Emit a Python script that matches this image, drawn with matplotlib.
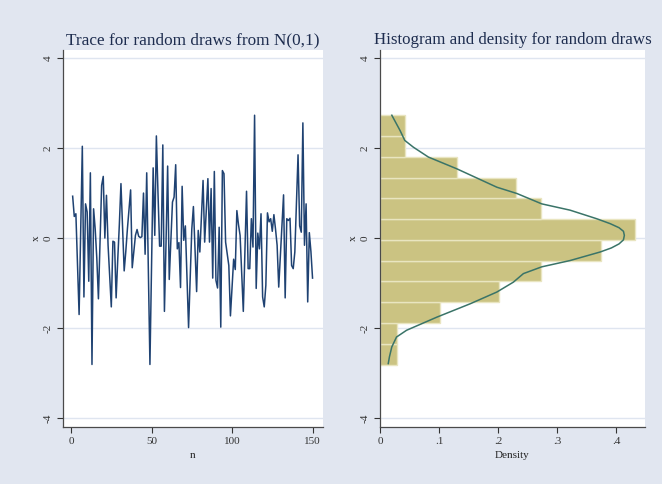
import numpy as np
import matplotlib
matplotlib.use("Agg")
import matplotlib.pyplot as plt

# ---- data ----
draws = [
    0.93, 0.48, 0.54, -0.60, -1.70, 0.17, 2.04, -1.31, 0.76, 0.58,
    -0.96, 1.45, -2.81, 0.65, 0.20, -0.45, -1.35, -0.10, 1.17, 1.37,
    0.00, 0.95, -0.16, -0.85, -1.53, -0.07, -0.09, -1.33, -0.48, 0.30,
    1.21, 0.25, -0.73, -0.30, 0.20, 0.65, 1.07, -0.66, -0.30, 0.06,
    0.19, 0.04, 0.01, 0.03, 1.00, -0.36, 1.45, -0.70, -2.81, -0.60,
    1.56, 0.06, 2.27, 1.00, -0.18, -0.18, 2.07, -1.63, -0.10, 1.60,
    -0.92, -0.05, 0.80, 0.91, 1.63, -0.24, -0.10, -1.10, 1.15, -0.05,
    0.27, -0.90, -1.99, -0.90, 0.20, 0.70, -0.25, -1.19, 0.17, -0.31,
    0.50, 1.28, -0.09, 0.60, 1.32, -0.09, 1.10, -0.89, 1.48, -0.94,
    -1.11, 0.24, -1.98, 1.50, 1.43, -0.09, -0.35, -0.61, -1.73, -1.10,
    -0.47, -0.70, 0.61, 0.30, 0.06, -0.80, -1.63, -0.30, 1.04, -0.68,
    -0.68, 0.43, -0.20, 2.73, -1.12, 0.11, -0.24, 0.54, -1.31, -1.53,
    -1.05, 0.56, 0.36, 0.43, 0.15, 0.52, 0.20, -0.16, -1.09, -0.40,
    0.30, 0.96, -1.33, 0.43, 0.39, 0.44, -0.61, -0.68, -0.31, 0.80,
    1.85, 0.27, 0.13, 2.56, -0.16, 0.76, -1.42, 0.12, -0.30, -0.89,
]
n = np.arange(1, len(draws) + 1)

# histogram: bin lower edges (x), bin width, density
bin_lo = [-2.813, -2.351, -1.889, -1.427, -0.965, -0.503, -0.041,
          0.421, 0.883, 1.345, 1.807, 2.269]
bin_w = 0.462
dens = [0.028, 0.028, 0.101, 0.201, 0.273, 0.374, 0.432,
        0.273, 0.230, 0.130, 0.043, 0.043]

# kernel density curve (density, x)
kd_x = [0.014, 0.016, 0.020, 0.028, 0.045, 0.096, 0.153, 0.198, 0.226,
        0.243, 0.274, 0.322, 0.373, 0.392, 0.405, 0.4125, 0.4140, 0.4125,
        0.405, 0.390, 0.367, 0.322, 0.274, 0.232, 0.198, 0.130, 0.082,
        0.0565, 0.042, 0.034, 0.020]
kd_y = [-2.79, -2.64, -2.42, -2.20, -2.05, -1.76, -1.46, -1.20, -0.98,
        -0.79, -0.64, -0.50, -0.31, -0.22, -0.13, -0.04, 0.06, 0.15,
        0.23, 0.32, 0.43, 0.62, 0.76, 0.99, 1.13, 1.54, 1.80, 2.02,
        2.17, 2.39, 2.73]

yticks = [-4, -2, 0, 2, 4]
ytick_labels = ["-4", "-2", "0", "2", "4"]
xticks_dens = [0, 0.1, 0.2, 0.3, 0.4]
xtick_dens_labels = ["0", ".1", ".2", ".3", ".4"]

BG = "#E1E6F0"
GRID = "#DFE5F0"
NAVY = "#1F4272"
TXT = "#1E2D4F"

plt.rcParams["font.family"] = ["Liberation Serif", "DejaVu Serif"]

fig = plt.figure(figsize=(6.62, 4.84), dpi=100, facecolor=BG)
ax1 = fig.add_axes([63 / 662, 57 / 484, 260 / 662, 377 / 484])
ax2 = fig.add_axes([380 / 662, 57 / 484, 265 / 662, 377 / 484])


def style(ax):
    ax.set_facecolor("white")
    for s in ("top", "right"):
        ax.spines[s].set_visible(False)
    for s in ("left", "bottom"):
        ax.spines[s].set_color("#4A4A4A")
        ax.spines[s].set_linewidth(0.9)
    ax.set_ylim(-4.2, 4.18)
    ax.set_yticks(yticks)
    ax.set_yticklabels(ytick_labels, rotation=90, va="center")
    ax.tick_params(colors="#333333", labelsize=8, length=4, width=0.8)
    ax.grid(axis="y", color=GRID, lw=1.0)
    ax.set_axisbelow(True)
    ax.set_ylabel("x", fontsize=8, color="#222222", labelpad=2)


# ---- trace ----
style(ax1)
ax1.plot(n, draws, color=NAVY, lw=1.1)
ax1.set_xlim(-5, 156.5)
ax1.set_xticks([0, 50, 100, 150])
ax1.set_xlabel("n", fontsize=8, color="#222222", labelpad=3)
ax1.set_title("Trace for random draws from N(0,1)", fontsize=12.4,
              color=TXT, pad=4)

# ---- histogram + density ----
style(ax2)
ax2.barh(bin_lo, dens, height=bin_w, align="edge", color="#CBC382",
         edgecolor="#E9E5C0", lw=1.0)
ax2.plot(kd_x, kd_y, color="#3A7468", lw=1.1)
ax2.set_xlim(0, 0.449)
ax2.set_xticks(xticks_dens)
ax2.set_xticklabels(xtick_dens_labels)
ax2.set_xlabel("Density", fontsize=8, color="#222222", labelpad=3)
ax2.set_title("Histogram and density for random draws", fontsize=12.2,
              color=TXT, pad=4)

fig.savefig("out.png", dpi=100, facecolor=BG)
